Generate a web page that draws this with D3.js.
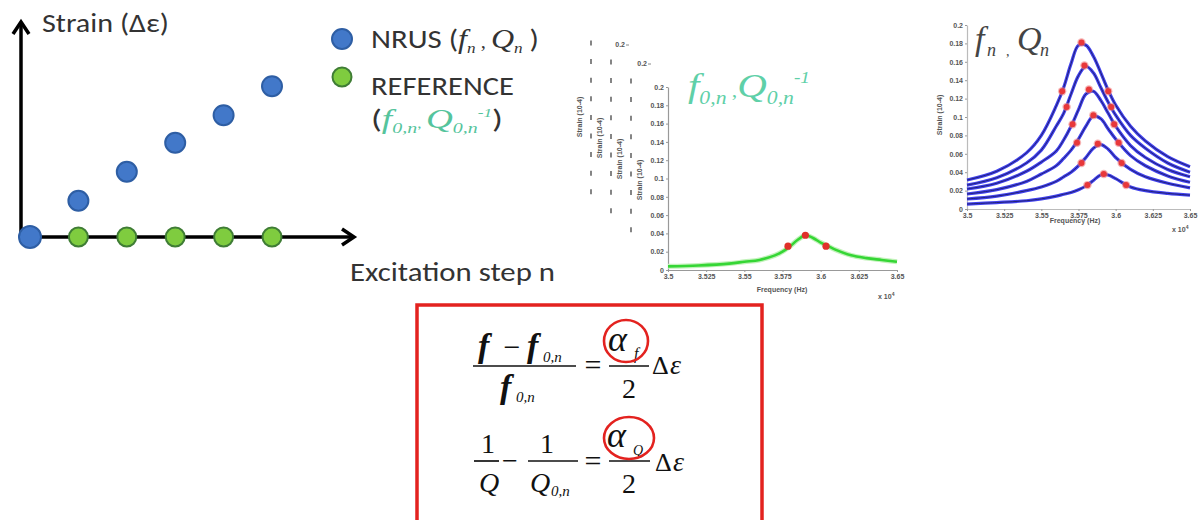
<!DOCTYPE html>
<html><head><meta charset="utf-8">
<script src="https://cdn.jsdelivr.net/npm/d3@7"></script>
<style>html,body{margin:0;padding:0;background:#fff;}svg{display:block;}</style>
</head><body><svg id="c" width="1200" height="520"></svg>
<script>
// ---------- DATA ----------
const steps = [0, 1, 2, 3, 4, 5];
const nrusStrain = [0, 1.25, 2.25, 3.25, 4.2, 5.2];
const refSteps = [1, 2, 3, 4, 5];
const refStrain = [0, 0, 0, 0, 0];

const freqTicks = [3.5, 3.525, 3.55, 3.575, 3.6, 3.625, 3.65];
const freqTickLabels = ["3.5", "3.525", "3.55", "3.575", "3.6", "3.625", "3.65"];
const strainTicks = [0, 0.02, 0.04, 0.06, 0.08, 0.1, 0.12, 0.14, 0.16, 0.18, 0.2];
const strainTickLabels = ["0", "0.02", "0.04", "0.06", "0.08", "0.1", "0.12", "0.14", "0.16", "0.18", "0.2"];

// reference (low-amplitude) resonance curve
const refFreq = [3.5, 3.52, 3.54, 3.55, 3.56, 3.57, 3.575, 3.58, 3.585, 3.59, 3.595, 3.6, 3.605, 3.61, 3.62, 3.63, 3.64, 3.65];
const refCurve = [0.004, 0.005, 0.007, 0.009, 0.011, 0.016, 0.02, 0.026, 0.033, 0.038, 0.035, 0.03, 0.026, 0.022, 0.016, 0.013, 0.011, 0.009];
const refDotFreq = [3.5786, 3.59, 3.6035];
const refDotStrain = [0.026, 0.038, 0.026];

// NRUS resonance curves
const nrusFreq = [3.5, 3.52, 3.54, 3.55, 3.56, 3.565, 3.57, 3.575, 3.58, 3.585, 3.59, 3.595, 3.6, 3.61, 3.62, 3.635, 3.65];
const curve1 = [0.0315, 0.041, 0.061, 0.080, 0.112, 0.132, 0.158, 0.178, 0.178, 0.166, 0.148, 0.129, 0.113, 0.090, 0.074, 0.057, 0.046];
const curve2 = [0.026, 0.034, 0.050, 0.064, 0.090, 0.104, 0.125, 0.145, 0.155, 0.148, 0.132, 0.116, 0.102, 0.080, 0.066, 0.050, 0.040];
const curve3 = [0.0217, 0.028, 0.041, 0.051, 0.063, 0.075, 0.090, 0.108, 0.125, 0.128, 0.118, 0.104, 0.090, 0.069, 0.056, 0.043, 0.035];
const curve4 = [0.0163, 0.021, 0.030, 0.038, 0.047, 0.055, 0.064, 0.076, 0.090, 0.101, 0.098, 0.087, 0.076, 0.058, 0.047, 0.036, 0.029];
const curve5 = [0.0109, 0.014, 0.020, 0.024, 0.030, 0.035, 0.040, 0.047, 0.056, 0.066, 0.070, 0.065, 0.056, 0.043, 0.035, 0.028, 0.023];
const curve6 = [0.0054, 0.007, 0.009, 0.011, 0.014, 0.016, 0.018, 0.021, 0.025, 0.031, 0.037, 0.037, 0.033, 0.024, 0.020, 0.017, 0.015];
const nrusCurves = [curve1, curve2, curve3, curve4, curve5, curve6];
const nrusDotFreq = [
  [3.564, 3.577, 3.595], [3.567, 3.579, 3.597], [3.571, 3.582, 3.599],
  [3.574, 3.585, 3.602], [3.577, 3.588, 3.604], [3.581, 3.592, 3.607]];
const nrusDotStrain = [
  [0.128, 0.181, 0.128], [0.111, 0.156, 0.111], [0.092, 0.130, 0.092],
  [0.072, 0.102, 0.072], [0.050, 0.071, 0.050], [0.026, 0.038, 0.026]];

// ghost (stacked) figures behind the reference plot
const ghostLayers = [0, 1, 2];
const ghostTickCount = 9;
const ghostTopLabel = ["0.2", "0.2", ""];

// ---------- DRAW ----------
const svg = d3.select("#c");
svg.append("rect").attr("width", 1200).attr("height", 520).attr("fill", "#fff");

const SANS = "Carlito, Lato, 'Open Sans', 'DejaVu Sans', sans-serif";
const SERIF = "'Liberation Serif', 'DejaVu Serif', serif";

function rich(g, x, y, parts, base) {
  const t = g.append("text").attr("x", x).attr("y", y)
    .attr("font-size", base.size).attr("fill", base.fill || "#222")
    .attr("font-family", base.family || SANS)
    .attr("text-anchor", base.anchor || "start");
  if (base.len) t.attr("textLength", base.len).attr("lengthAdjust", "spacingAndGlyphs");
  let off = 0;
  parts.forEach(p => {
    const s = t.append("tspan").text(p.t);
    let target = 0, size = p.size || base.size;
    if (p.sub) { target = base.size * (p.shift || 0.3); size = p.size || base.size * 0.55; }
    if (p.sup) { target = -base.size * 0.42; size = p.size || base.size * 0.55; }
    s.attr("dy", target - off); off = target;
    s.attr("font-size", size);
    if (p.i) s.attr("font-style", "italic");
    if (p.serif || p.i) s.attr("font-family", SERIF);
    if (p.fill) s.attr("fill", p.fill);
    if (p.w) s.attr("font-weight", p.w);
    if (p.dx) s.attr("dx", p.dx);
  });
  return t;
}
function txt(g, x, y, s, o) {
  return g.append("text").attr("x", x).attr("y", y).text(s)
    .attr("font-family", o.family || SERIF).attr("font-size", o.size)
    .attr("font-style", o.i ? "italic" : "normal").attr("font-weight", o.w || "normal")
    .attr("fill", o.fill || "#111").attr("text-anchor", o.anchor || "start");
}

// ===== Left schematic =====
const L = svg.append("g");
const xs = d3.scaleLinear().domain([0, 5]).range([30, 272]);
const ys = d3.scaleLinear().domain([0, 7.5]).range([237, 19.5]);
const axisX0 = 21;
L.append("line").attr("x1", axisX0).attr("y1", ys(0)).attr("x2", axisX0).attr("y2", 22)
  .attr("stroke", "#000").attr("stroke-width", 3.5);
L.append("path").attr("d", `M${axisX0-8},${34} L${axisX0},${22} L${axisX0+8},${34}`)
  .attr("fill", "none").attr("stroke", "#000").attr("stroke-width", 3.5);
L.append("line").attr("x1", axisX0 - 1.5).attr("y1", ys(0)).attr("x2", 354).attr("y2", ys(0))
  .attr("stroke", "#000").attr("stroke-width", 3.5);
L.append("path").attr("d", `M${342},${ys(0)-8} L${354},${ys(0)} L${342},${ys(0)+8}`)
  .attr("fill", "none").attr("stroke", "#000").attr("stroke-width", 3.5);

L.selectAll(".ref").data(refSteps).enter().append("circle")
  .attr("cx", d => xs(d)).attr("cy", (d, i) => ys(refStrain[i])).attr("r", 9.5)
  .attr("fill", "#7fcc3f").attr("stroke", "#3f7d35").attr("stroke-width", 2);
L.selectAll(".nrus").data(steps).enter().append("circle")
  .attr("cx", d => xs(d)).attr("cy", (d, i) => ys(nrusStrain[i])).attr("r", (d, i) => i === 0 ? 11 : 10)
  .attr("fill", "#4278c9").attr("stroke", "#2e5ea4").attr("stroke-width", 2);

rich(L, 42, 32, [{t: "Strain (Δε)"}], {size: 27, fill: "#333", len: 127});
rich(L, 350, 281, [{t: "Excitation step n"}], {size: 27, fill: "#333", len: 205});

// legend
L.append("circle").attr("cx", 342).attr("cy", 39).attr("r", 10).attr("fill", "#4278c9").attr("stroke", "#2e5ea4").attr("stroke-width", 2);
L.append("circle").attr("cx", 342).attr("cy", 77).attr("r", 9.5).attr("fill", "#7fcc3f").attr("stroke", "#3f7d35").attr("stroke-width", 2);
rich(L, 371, 48, [{t: "NRUS ("}, {t: "f", i: 1, size: 28}, {t: "n", i: 1, sub: 1, size: 15, shift: 0.2}, {t: " , ", serif: 1, size: 18}, {t: "Q", i: 1, size: 28}, {t: "n", i: 1, sub: 1, size: 15, shift: 0.2}, {t: " )"}], {size: 27, fill: "#333", len: 168});
rich(L, 371, 95, [{t: "REFERENCE"}], {size: 27, fill: "#333", len: 143});
rich(L, 371, 128, [{t: "("}, {t: "f", i: 1, fill: "#55c49c", size: 28}, {t: "0,n", i: 1, sub: 1, fill: "#55c49c", size: 15, shift: 0.2}, {t: ", ", size: 14, fill: "#55c49c"}, {t: "Q", i: 1, fill: "#55c49c", size: 28}, {t: "0,n", i: 1, sub: 1, fill: "#55c49c", size: 15, shift: 0.2}, {t: "-1", i: 1, sup: 1, fill: "#55c49c", size: 13}, {t: ")"}], {size: 27, fill: "#333", len: 132});

// ===== Middle: reference resonance plot with stacked figures =====
const M = svg.append("g");
const mx = d3.scaleLinear().domain([3.5, 3.65]).range([668, 897]);
const my = d3.scaleLinear().domain([0, 0.2]).range([270, 87]);
const tickFont = "'Liberation Sans', Arial, sans-serif";

ghostLayers.forEach(k => {
  const colX = 591 + 20 * k;
  const top = 43 + 19 * k;
  const gy = d3.scaleLinear().domain([0, ghostTickCount - 1]).range([top, top + (ghostTickCount - 1) * 18.6]);
  d3.range(ghostTickCount).forEach(j => {
    M.append("line").attr("x1", colX).attr("x2", colX).attr("y1", gy(j) - 2.5).attr("y2", gy(j) + 2.5)
      .attr("stroke", "#666").attr("stroke-width", 1.6);
  });
  M.append("text").attr("transform", `translate(${582 + 20 * k},${117 + 21 * k}) rotate(-90)`)
    .attr("text-anchor", "middle").attr("font-size", 7).attr("font-weight", "bold")
    .attr("font-family", tickFont).attr("fill", "#555").text("Strain (10-4)");
  if (ghostTopLabel[k]) {
    M.append("text").attr("x", 625 + 22 * k).attr("y", 47 + 19 * k).attr("text-anchor", "end")
      .attr("font-size", 7).attr("font-weight", "bold").attr("font-family", tickFont).attr("fill", "#555")
      .text(ghostTopLabel[k]);
    M.append("line").attr("x1", 626 + 22 * k).attr("x2", 629 + 22 * k).attr("y1", 45 + 19 * k).attr("y2", 45 + 19 * k)
      .attr("stroke", "#888").attr("stroke-width", 1);
  }
});

function styleAxis(g) {
  g.selectAll("text").attr("font-size", 7).attr("font-weight", "bold").attr("font-family", tickFont).attr("fill", "#555");
  g.selectAll("path.domain").attr("stroke", "#999").attr("stroke-width", 1.2);
  g.selectAll(".tick line").attr("stroke", "#999");
}
const mAxY = M.append("g").attr("transform", `translate(${mx(3.5)},0)`)
  .call(d3.axisLeft(my).tickValues(strainTicks).tickFormat((d, i) => strainTickLabels[i]).tickSize(2).tickPadding(2).tickSizeOuter(0));
styleAxis(mAxY);
const mAxX = M.append("g").attr("transform", `translate(0,${my(0)})`)
  .call(d3.axisBottom(mx).tickValues(freqTicks).tickFormat((d, i) => freqTickLabels[i]).tickSize(2).tickPadding(2).tickSizeOuter(0));
styleAxis(mAxX);
M.append("text").attr("transform", `translate(642,180) rotate(-90)`).attr("text-anchor", "middle")
  .attr("font-size", 7).attr("font-weight", "bold").attr("font-family", tickFont).attr("fill", "#555").text("Strain (10-4)");
M.append("text").attr("x", 782).attr("y", 292).attr("text-anchor", "middle")
  .attr("font-size", 7).attr("font-weight", "bold").attr("font-family", tickFont).attr("fill", "#555").text("Frequency (Hz)");
rich(M, 878, 299, [{t: "x 10", w: "bold"}, {t: "4", sup: 1, w: "bold", size: 5}], {size: 7, fill: "#555", family: tickFont});

const lineM = d3.line().x((d, i) => mx(refFreq[i])).y(d => my(d)).curve(d3.curveCatmullRom.alpha(0.5));
M.append("path").datum(refCurve).attr("d", lineM).attr("fill", "none").attr("stroke", "#c2f2ba").attr("stroke-width", 5);
M.append("path").datum(refCurve).attr("d", lineM).attr("fill", "none").attr("stroke", "#35d635").attr("stroke-width", 2.6);
M.selectAll(".rd").data(refDotFreq).enter().append("circle")
  .attr("cx", d => mx(d)).attr("cy", (d, i) => my(refDotStrain[i])).attr("r", 3.6).attr("fill", "#e0302a");

rich(M, 688, 97, [{t: "f", i: 1}, {t: "0,n", i: 1, sub: 1, size: 18, shift: 0.2}, {t: " ,", serif: 1, size: 18}, {t: "Q", i: 1}, {t: "0,n", i: 1, sub: 1, size: 18, shift: 0.2}, {t: "-1", i: 1, sup: 1, size: 16}], {size: 34, fill: "#5fd0a8", family: SERIF, len: 122});

// ===== Right: NRUS resonance curves =====
const R = svg.append("g");
const rx = d3.scaleLinear().domain([3.5, 3.65]).range([967, 1190]);
const ry = d3.scaleLinear().domain([0, 0.2]).range([209, 25]);
const rAxY = R.append("g").attr("transform", `translate(${rx(3.5)},0)`)
  .call(d3.axisLeft(ry).tickValues(strainTicks).tickFormat((d, i) => strainTickLabels[i]).tickSize(2).tickPadding(2).tickSizeOuter(0));
styleAxis(rAxY);
const rAxX = R.append("g").attr("transform", `translate(0,${ry(0)})`)
  .call(d3.axisBottom(rx).tickValues(freqTicks).tickFormat((d, i) => freqTickLabels[i]).tickSize(2).tickPadding(2).tickSizeOuter(0));
styleAxis(rAxX);
R.selectAll("path.domain").attr("stroke", "#bbb");
R.append("text").attr("transform", `translate(942,115) rotate(-90)`).attr("text-anchor", "middle")
  .attr("font-size", 7).attr("font-weight", "bold").attr("font-family", tickFont).attr("fill", "#555").text("Strain (10-4)");
R.append("text").attr("x", 1075).attr("y", 223).attr("text-anchor", "middle")
  .attr("font-size", 7).attr("font-weight", "bold").attr("font-family", tickFont).attr("fill", "#555").text("Frequency (Hz)");
rich(R, 1172, 232, [{t: "x 10", w: "bold"}, {t: "4", sup: 1, w: "bold", size: 5}], {size: 7, fill: "#555", family: tickFont});

const lineR = d3.line().x((d, i) => rx(nrusFreq[i])).y(d => ry(d)).curve(d3.curveCatmullRom.alpha(0.5));
nrusCurves.forEach(c => {
  R.append("path").datum(c).attr("d", lineR).attr("fill", "none").attr("stroke", "#4040ee").attr("stroke-width", 3.2);
  R.append("path").datum(c).attr("d", lineR).attr("fill", "none").attr("stroke", "#1e1e66").attr("stroke-width", 0.9);
});
nrusDotFreq.forEach((fs, ci) => {
  fs.forEach((f, j) => {
    R.append("circle").attr("cx", rx(f)).attr("cy", ry(nrusDotStrain[ci][j])).attr("r", 4.2)
      .attr("fill", "#f08080").attr("opacity", 0.6);
    R.append("circle").attr("cx", rx(f)).attr("cy", ry(nrusDotStrain[ci][j])).attr("r", 3)
      .attr("fill", "#e8383a");
  });
});
txt(R, 975, 50, "f", {size: 34, i: 1, fill: "#444"});
txt(R, 987, 56, "n", {size: 18, i: 1, fill: "#444"});
txt(R, 1006, 56, ",", {size: 14, fill: "#444"});
txt(R, 1017, 50, "Q", {size: 34, i: 1, fill: "#444"});
txt(R, 1040, 56, "n", {size: 18, i: 1, fill: "#444"});

// ===== Equation box =====
const E = svg.append("g");
E.append("rect").attr("x", 417).attr("y", 305).attr("width", 345).attr("height", 230)
  .attr("fill", "#fff").attr("stroke", "#e3221f").attr("stroke-width", 3.5);
const K = "#111";
// eq 1
txt(E, 478, 357, "f", {size: 34, i: 1, w: "bold"});
txt(E, 512, 357, "−", {size: 30, anchor: "middle"});
txt(E, 527, 357, "f", {size: 34, i: 1, w: "bold"});
txt(E, 543, 362, "0,n", {size: 15, i: 1});
E.append("line").attr("x1", 473).attr("x2", 576).attr("y1", 366).attr("y2", 366).attr("stroke", K).attr("stroke-width", 1.7);
txt(E, 500, 398, "f", {size: 34, i: 1, w: "bold"});
txt(E, 516, 402, "0,n", {size: 15, i: 1});
txt(E, 593, 375, "=", {size: 30, anchor: "middle"});
txt(E, 608, 351, "α", {size: 36, i: 1});
txt(E, 634, 359, "f", {size: 16, i: 1});
E.append("line").attr("x1", 609).attr("x2", 649).attr("y1", 366).attr("y2", 366).attr("stroke", K).attr("stroke-width", 1.7);
txt(E, 629, 398, "2", {size: 28, anchor: "middle"});
txt(E, 652, 374, "Δ", {size: 26});
txt(E, 670, 374, "ε", {size: 28, i: 1});
E.append("ellipse").attr("cx", 626).attr("cy", 341).attr("rx", 22).attr("ry", 21).attr("fill", "none").attr("stroke", "#e3221f").attr("stroke-width", 2.6);
// eq 2
txt(E, 488, 453, "1", {size: 28, anchor: "middle"});
E.append("line").attr("x1", 474).attr("x2", 499).attr("y1", 461).attr("y2", 461).attr("stroke", K).attr("stroke-width", 1.7);
txt(E, 489, 492, "Q", {size: 28, i: 1, anchor: "middle"});
txt(E, 510, 470, "−", {size: 28, anchor: "middle"});
txt(E, 547, 453, "1", {size: 28, anchor: "middle"});
E.append("line").attr("x1", 528).attr("x2", 578).attr("y1", 461).attr("y2", 461).attr("stroke", K).attr("stroke-width", 1.7);
txt(E, 530, 492, "Q", {size: 28, i: 1});
txt(E, 551, 496, "0,n", {size: 15, i: 1});
txt(E, 593, 471, "=", {size: 30, anchor: "middle"});
txt(E, 607, 447, "α", {size: 36, i: 1});
txt(E, 633, 455, "Q", {size: 14, i: 1});
E.append("line").attr("x1", 609).attr("x2", 650).attr("y1", 461).attr("y2", 461).attr("stroke", K).attr("stroke-width", 1.7);
txt(E, 629, 493, "2", {size: 28, anchor: "middle"});
txt(E, 655, 471, "Δ", {size: 26});
txt(E, 673, 471, "ε", {size: 28, i: 1});
E.append("ellipse").attr("cx", 629).attr("cy", 438).attr("rx", 25).attr("ry", 21).attr("fill", "none").attr("stroke", "#e3221f").attr("stroke-width", 2.6);
</script></body></html>
